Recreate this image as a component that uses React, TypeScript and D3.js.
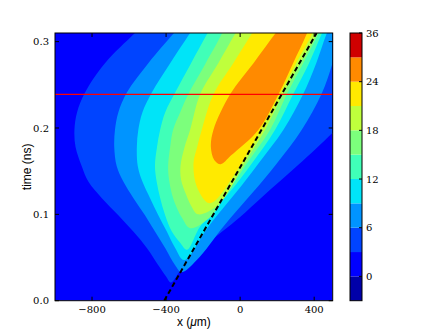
import React from "react";
import * as d3 from "d3";

// axes
const xDomain = [-1000, 500];
const tDomain = [0, 0.31];
const xTicks = [-800, -400, 0, 400];
const tTicks = [0, 0.1, 0.2, 0.3];

// contour levels and the colour of each band (band i lies between levels[i] and levels[i+1])
const levels = [-3, 0, 3, 6, 9, 12, 15, 18, 21, 24, 27, 36];
const bandColors = [
  "#0000a8", "#0000ff", "#0044ff", "#0094ff", "#00e4f8", "#40ffb8",
  "#7cff7c", "#bfff3c", "#ffea00", "#ff8a00", "#d00000",
];
const cbarTicks = [0, 6, 12, 18, 24, 36];

// outlines of the region above each level: [x (um), time (ns)]
const above3 = [
  [-470, 0.33], [-568, 0.31], [-730, 0.275], [-838, 0.241], [-881, 0.218], [-895, 0.198],
  [-889, 0.178], [-856, 0.156], [-820, 0.138], [-748, 0.119], [-658, 0.099], [-577, 0.08],
  [-504, 0.061], [-442, 0.041], [-400, 0.028], [-373, 0.021], [-319, 0.036], [-211, 0.059],
  [-97, 0.08], [0, 0.097], [113, 0.119], [213, 0.138], [313, 0.157], [405, 0.175],
  [508, 0.196], [578, 0.209],
];
const above6 = [
  [-270, 0.33], [-357, 0.31], [-496, 0.275], [-612, 0.241], [-658, 0.218], [-676, 0.198],
  [-680, 0.178], [-667, 0.156], [-631, 0.138], [-577, 0.119], [-514, 0.099], [-460, 0.08],
  [-405, 0.061], [-351, 0.041], [-316, 0.033], [-234, 0.047], [-90, 0.086], [63, 0.124],
  [198, 0.159], [333, 0.198], [439, 0.239], [499, 0.275], [532, 0.304], [555, 0.34],
];
const above9 = [
  [-207, 0.33], [-270, 0.31], [-378, 0.275], [-477, 0.241], [-528, 0.218], [-550, 0.198],
  [-558, 0.178], [-553, 0.156], [-528, 0.138], [-487, 0.119], [-442, 0.099], [-396, 0.08],
  [-351, 0.061], [-303, 0.047], [-171, 0.086], [-27, 0.124], [99, 0.159], [234, 0.198],
  [340, 0.239], [411, 0.275], [467, 0.309], [510, 0.33],
];
const above12 = [
  [-124, 0.33], [-178, 0.309], [-265, 0.275], [-351, 0.241], [-405, 0.218], [-432, 0.198],
  [-449, 0.178], [-460, 0.156], [-451, 0.138], [-432, 0.119], [-405, 0.099], [-369, 0.08],
  [-324, 0.067], [-287, 0.059], [-216, 0.086], [-63, 0.124], [63, 0.159], [189, 0.198],
  [286, 0.239], [372, 0.275], [441, 0.309], [486, 0.33],
];
const above15 = [
  [-60, 0.33], [-99, 0.309], [-186, 0.275], [-280, 0.239], [-324, 0.218], [-362, 0.198],
  [-378, 0.178], [-389, 0.156], [-384, 0.14], [-368, 0.123], [-341, 0.107], [-314, 0.096],
  [-270, 0.084], [-165, 0.096], [-72, 0.124], [36, 0.159], [162, 0.198], [252, 0.239],
  [341, 0.275], [423, 0.309], [465, 0.33],
];
const above18 = [
  [31, 0.33], [-27, 0.309], [-118, 0.275], [-216, 0.239], [-270, 0.198], [-300, 0.178],
  [-322, 0.156], [-319, 0.14], [-292, 0.123], [-265, 0.11], [-227, 0.1], [-119, 0.111],
  [22, 0.159], [135, 0.198], [231, 0.239], [324, 0.275], [411, 0.309], [443, 0.33],
];
const above21 = [
  [127, 0.33], [63, 0.309], [-37, 0.275], [-144, 0.239], [-207, 0.198], [-232, 0.178],
  [-252, 0.159], [-234, 0.132], [-171, 0.113], [-130, 0.117], [-16, 0.151], [112, 0.198],
  [214, 0.239], [302, 0.275], [388, 0.309], [416, 0.33],
];
const above24 = [
  [264, 0.33], [189, 0.309], [72, 0.275], [-54, 0.239], [-144, 0.198], [-158, 0.178],
  [-140, 0.163], [-105, 0.158], [-50, 0.168], [99, 0.198], [207, 0.239], [286, 0.275],
  [360, 0.309], [394, 0.33],
];
const regions = [
  { level: 3, pts: above3 },
  { level: 6, pts: above6 },
  { level: 9, pts: above9 },
  { level: 12, pts: above12 },
  { level: 15, pts: above15 },
  { level: 18, pts: above18 },
  { level: 21, pts: above21 },
  { level: 24, pts: above24 },
];

const frontLine = [[-410, 0], [413, 0.31]];
const probeTime = 0.239;

const tickFont = "DejaVu Serif";
const labelFont = "Liberation Sans";

export default function App() {
  const plot = { left: 55, right: 332.7, top: 33, bottom: 300.7 };
  const cbar = { left: 350, right: 362, top: 33, bottom: 300.7 };

  const x = d3.scaleLinear().domain(xDomain).range([plot.left, plot.right]);
  const y = d3.scaleLinear().domain(tDomain).range([plot.bottom, plot.top]);
  const cb = d3.scaleLinear().domain([0, levels.length - 1]).range([cbar.bottom, cbar.top]);

  const line = d3.line<number[]>()
    .x(d => x(d[0]))
    .y(d => y(d[1]))
    .curve(d3.curveCatmullRom.alpha(0.5));

  // close each outline above the top of the plot, where it is clipped away
  const regionPath = (pts: number[][]) => {
    const first = pts[0], last = pts[pts.length - 1];
    return line(pts) + `L${x(last[0])},${y(0.45)}L${x(first[0])},${y(0.45)}Z`;
  };

  const fmtX = (d: number) => (d < 0 ? "\u2212" + Math.abs(d) : String(d));
  const fmtT = d3.format(".1f");
  const tick = 4;

  return (
    <svg width={447} height={335} style={{ position: "absolute", left: 0, top: 0 }}>
      <rect width={447} height={335} fill="#fff" />
      <defs>
        <clipPath id="plotClip">
          <rect x={plot.left} y={plot.top} width={plot.right - plot.left} height={plot.bottom - plot.top} />
        </clipPath>
      </defs>

      <g clipPath="url(#plotClip)">
        <rect x={plot.left} y={plot.top} width={plot.right - plot.left} height={plot.bottom - plot.top}
          fill={bandColors[levels.indexOf(0)]} />
        {regions.map(r => (
          <path key={r.level} d={regionPath(r.pts)} fill={bandColors[levels.indexOf(r.level)]} />
        ))}
        <line x1={plot.left} x2={plot.right} y1={y(probeTime)} y2={y(probeTime)} stroke="#ff0000" strokeWidth={1.2} />
        <line x1={x(frontLine[0][0])} y1={y(frontLine[0][1])} x2={x(frontLine[1][0])} y2={y(frontLine[1][1])}
          stroke="#000" strokeWidth={2} strokeDasharray="5,3" />
      </g>

      {/* frame and ticks */}
      <rect x={plot.left} y={plot.top} width={plot.right - plot.left} height={plot.bottom - plot.top}
        fill="none" stroke="#000" strokeWidth={1} />
      {xTicks.map(d => (
        <g key={"x" + d}>
          <line x1={x(d)} x2={x(d)} y1={plot.bottom} y2={plot.bottom - tick} stroke="#000" />
          <line x1={x(d)} x2={x(d)} y1={plot.top} y2={plot.top + tick} stroke="#000" />
          <text x={x(d)} y={plot.bottom + 12} textAnchor="middle" fontFamily={tickFont} fontSize={10}>{fmtX(d)}</text>
        </g>
      ))}
      {tTicks.map(d => (
        <g key={"t" + d}>
          <line x1={plot.left} x2={plot.left + tick} y1={y(d)} y2={y(d)} stroke="#000" />
          <line x1={plot.right} x2={plot.right - tick} y1={y(d)} y2={y(d)} stroke="#000" />
          <text x={plot.left - 6} y={y(d)} dy="0.36em" textAnchor="end" fontFamily={tickFont} fontSize={10}>{fmtT(d)}</text>
        </g>
      ))}

      <text x={(plot.left + plot.right) / 2} y={326} textAnchor="middle" fontFamily={labelFont} fontSize={12}>
        x (<tspan fontStyle="italic">μ</tspan>m)
      </text>
      <text transform={`translate(30.5,${(plot.top + plot.bottom) / 2}) rotate(-90)`} textAnchor="middle"
        fontFamily={labelFont} fontSize={12}>time (ns)</text>

      {/* colorbar */}
      {bandColors.map((c, i) => (
        <rect key={c} x={cbar.left} width={cbar.right - cbar.left} y={cb(i + 1)} height={cb(i) - cb(i + 1)} fill={c} />
      ))}
      <rect x={cbar.left} y={cbar.top} width={cbar.right - cbar.left} height={cbar.bottom - cbar.top}
        fill="none" stroke="#000" strokeWidth={1} />
      {cbarTicks.map(v => {
        const yy = cb(levels.indexOf(v));
        return (
          <g key={"c" + v}>
            <line x1={cbar.right} x2={cbar.right - 3} y1={yy} y2={yy} stroke="#000" />
            <text x={cbar.right + 4} y={yy} dy="0.36em" fontFamily={tickFont} fontSize={10}>{v}</text>
          </g>
        );
      })}
    </svg>
  );
}
